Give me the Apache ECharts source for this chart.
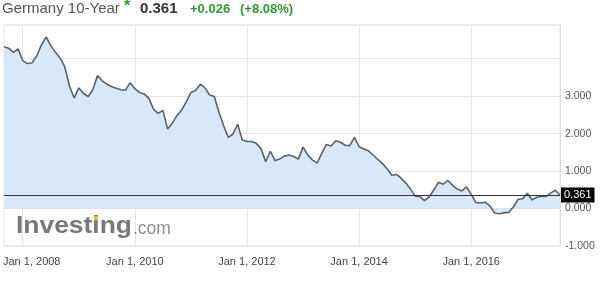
<!DOCTYPE html>
<html><head><meta charset="utf-8">
<script src="https://cdn.jsdelivr.net/npm/echarts@6/dist/echarts.min.js"></script>
<style>html,body{margin:0;padding:0;background:#fff}#c{width:600px;height:283px}</style>
</head><body><div id="c"></div><script>
const months = [
  '2007-09','2007-10','2007-11','2007-12',
  '2008-01','2008-02','2008-03','2008-04','2008-05','2008-06','2008-07','2008-08','2008-09','2008-10','2008-11','2008-12',
  '2009-01','2009-02','2009-03','2009-04','2009-05','2009-06','2009-07','2009-08','2009-09','2009-10','2009-11','2009-12',
  '2010-01','2010-02','2010-03','2010-04','2010-05','2010-06','2010-07','2010-08','2010-09','2010-10','2010-11','2010-12',
  '2011-01','2011-02','2011-03','2011-04','2011-05','2011-06','2011-07','2011-08','2011-09','2011-10','2011-11','2011-12',
  '2012-01','2012-02','2012-03','2012-04','2012-05','2012-06','2012-07','2012-08','2012-09','2012-10','2012-11','2012-12',
  '2013-01','2013-02','2013-03','2013-04','2013-05','2013-06','2013-07','2013-08','2013-09','2013-10','2013-11','2013-12',
  '2014-01','2014-02','2014-03','2014-04','2014-05','2014-06','2014-07','2014-08','2014-09','2014-10','2014-11','2014-12',
  '2015-01','2015-02','2015-03','2015-04','2015-05','2015-06','2015-07','2015-08','2015-09','2015-10','2015-11','2015-12',
  '2016-01','2016-02','2016-03','2016-04','2016-05','2016-06','2016-07','2016-08','2016-09','2016-10','2016-11','2016-12',
  '2017-01','2017-02','2017-03','2017-04','2017-05','2017-06','2017-07','2017-08'
];
const yields = [
  4.32, 4.28, 4.17, 4.26,
  3.95, 3.87, 3.89, 4.08, 4.37, 4.58, 4.35, 4.17, 4.02, 3.78, 3.27, 2.95,
  3.22, 3.07, 2.99, 3.17, 3.55, 3.41, 3.32, 3.26, 3.21, 3.17, 3.16, 3.36,
  3.20, 3.10, 3.06, 2.94, 2.65, 2.54, 2.62, 2.12, 2.28, 2.48, 2.63, 2.85,
  3.10, 3.15, 3.32, 3.22, 3.03, 2.99, 2.57, 2.21, 1.90, 1.99, 2.25, 1.83,
  1.79, 1.79, 1.74, 1.60, 1.25, 1.53, 1.28, 1.32, 1.40, 1.43, 1.39, 1.32,
  1.64, 1.43, 1.30, 1.21, 1.47, 1.71, 1.67, 1.81, 1.77, 1.69, 1.68, 1.90,
  1.65, 1.59, 1.54, 1.43, 1.31, 1.20, 1.06, 0.89, 0.91, 0.81, 0.68, 0.52,
  0.33, 0.32, 0.21, 0.31, 0.50, 0.70, 0.65, 0.75, 0.62, 0.52, 0.47, 0.58,
  0.38, 0.16, 0.15, 0.17, 0.07, -0.12, -0.14, -0.11, -0.11, 0.04, 0.24, 0.26,
  0.41, 0.23, 0.30, 0.32, 0.32, 0.41, 0.49, 0.361
];
const yTicks = [-1, 0, 1, 2, 3];
const lastValue = 0.361;
const change = '+0.026';
const changePct = '(+8.08%)';
const titleText = 'Germany 10-Year';
const monthNames = ['Jan','Feb','Mar','Apr','May','Jun','Jul','Aug','Sep','Oct','Nov','Dec'];

const FONT = '"Liberation Sans", Arial, sans-serif';
const GREEN = '#2e9b2e';
function isLabelMonth(idx, val) {
  const [y, m] = val.split('-').map(Number);
  return m === 1 && y % 2 === 0;
}

const chart = echarts.init(document.getElementById('c'), null, {renderer: 'canvas'});
chart.setOption({
  animation: false,
  grid: {left: 3, right: 40, top: 25, bottom: 37, show: true, borderColor: '#e3e3e3', borderWidth: 1},
  xAxis: {
    type: 'category', data: months, boundaryGap: false,
    axisLine: {show: true, lineStyle: {color: '#dcdcdc'}},
    axisTick: {show: false},
    axisLabel: {
      interval: isLabelMonth, margin: 10, color: '#444', fontSize: 11, fontFamily: FONT,
      formatter: function (val) {
        const [y, m] = val.split('-').map(Number);
        const t = monthNames[m - 1] + ' 1, ' + y;
        return y === 2008 ? '{f|' + t + '}' : t;
      },
      rich: {f: {padding: [0, 0, 0, 18], color: '#444', fontSize: 11, fontFamily: FONT}}
    },
    splitLine: {show: true, interval: isLabelMonth, lineStyle: {color: '#e6e6e6', width: 1}}
  },
  yAxis: {
    type: 'value', position: 'right', min: -1, max: 4.9, interval: 1,
    axisLine: {show: true, lineStyle: {color: '#dcdcdc'}},
    axisTick: {show: false},
    axisLabel: {
      margin: 5, color: '#555', fontSize: 10.5, fontFamily: FONT,
      formatter: v => yTicks.indexOf(Math.round(v * 1000) / 1000) >= 0 ? v.toFixed(3) : ''
    },
    splitLine: {show: true, lineStyle: {color: '#e6e6e6', width: 1}}
  },
  series: [{
    type: 'line', data: yields, symbol: 'none', smooth: false,
    lineStyle: {color: '#5b6168', width: 1.6},
    areaStyle: {color: '#d7e8fb', opacity: 1},
    markLine: {
      silent: true, symbol: 'none',
      lineStyle: {color: '#333', width: 1, type: 'solid'},
      label: {
        show: true, position: 'end', distance: 1,
        formatter: () => lastValue.toFixed(3),
        backgroundColor: '#000', color: '#fff', padding: [2, 3, 2, 3],
        fontSize: 11, fontFamily: FONT
      },
      data: [{yAxis: lastValue}]
    }
  }],
  graphic: [
    {type: 'text', z: 100, style: {x: 2, y: 9, text: titleText, font: '15px ' + FONT, fill: '#555', textVerticalAlign: 'middle'}},
    {type: 'text', z: 100, style: {x: 124, y: 7, text: '*', font: 'bold 16px ' + FONT, fill: GREEN, textVerticalAlign: 'middle'}},
    {type: 'text', z: 100, style: {x: 140, y: 9, text: lastValue.toFixed(3), font: 'bold 15px ' + FONT, fill: '#333', textVerticalAlign: 'middle'}},
    {type: 'text', z: 100, style: {x: 190, y: 9.5, text: change, font: 'bold 13px ' + FONT, fill: GREEN, textVerticalAlign: 'middle'}},
    {type: 'text', z: 100, style: {x: 240, y: 9.5, text: changePct, font: 'bold 13px ' + FONT, fill: GREEN, textVerticalAlign: 'middle'}},
    {type: 'text', z: 100, x: 16, y: 226.7, scaleX: 1.078, style: {x: 0, y: 0, text: 'Investing', font: 'bold 24.5px ' + FONT, fill: '#787878', textVerticalAlign: 'middle'}},
    {type: 'text', z: 100, x: 133, y: 228.9, style: {x: 0, y: 0, text: '.com', font: '17.5px ' + FONT, fill: '#8c8c8c', textVerticalAlign: 'middle'}},
    {type: 'circle', z: 101, shape: {cx: 96, cy: 218.3, r: 2.3}, style: {fill: '#f3bb3a'}}
  ]
});
</script></body></html>
